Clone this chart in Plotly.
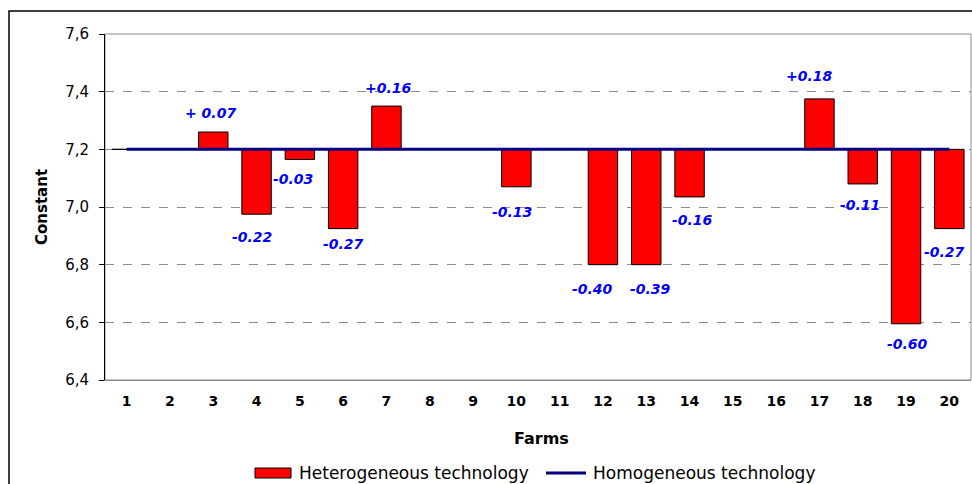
import plotly.graph_objects as go

# ---- data ----
farms = list(range(1, 21))
heterogeneous = [7.20, 7.20, 7.26, 6.975, 7.165, 6.925, 7.35, 7.20, 7.20, 7.07,
                 7.20, 6.80, 6.80, 7.035, 7.20, 7.20, 7.375, 7.08, 6.595, 6.925]
homogeneous = [7.20] * 20
y_ticks = [6.4, 6.6, 6.8, 7.0, 7.2, 7.4, 7.6]
y_ticktext = ["6,4", "6,6", "6,8", "7,0", "7,2", "7,4", "7,6"]
label_farms = [3, 4, 5, 6, 7, 10, 12, 13, 14, 17, 18, 19, 20]
label_texts = ["+ 0.07", "-0.22", "-0.03", "-0.27", "+0.16", "-0.13", "-0.40",
               "-0.39", "-0.16", "+0.18", "-0.11", "-0.60", "-0.27"]
label_shift = [(-3, 19), (-5, -23), (-7, -20), (0, -15), (2, 18), (-4, -25), (-10, -24),
               (4, -24), (3, -23), (-10, 23), (-3, -21), (1, -20), (-5, -23)]
base_level = 7.2

FONT = "DejaVu Sans"
W, H = 972, 484
ML, MR, MT, MB = 105, 1, 34, 104
PW, PH = W - ML - MR, H - MT - MB


def px(x):
    return (x - ML) / PW


def py(y):
    return (H - MB - y) / PH


fig = go.Figure()
fig.add_trace(go.Bar(
    x=farms, y=[v - base_level for v in heterogeneous], base=base_level,
    width=0.68, name="Heterogeneous technology",
    marker=dict(color="#FF0000", line=dict(color="black", width=1)),
    showlegend=False,
))
fig.add_trace(go.Scatter(
    x=farms, y=homogeneous, mode="lines", name="Homogeneous technology",
    line=dict(color="#000080", width=3), showlegend=False,
))

annotations = []
val_by_farm = dict(zip(farms, heterogeneous))
for f, t, (dx, dy) in zip(label_farms, label_texts, label_shift):
    annotations.append(dict(
        x=f, y=val_by_farm[f], xref="x", yref="y", text=f"<b><i>{t}</i></b>",
        showarrow=False, xshift=dx, yshift=dy, yanchor="middle",
        font=dict(family=FONT, size=14, color="#0000FF"),
    ))

# axis titles
annotations.append(dict(x=px(541), y=py(438), xref="paper", yref="paper",
                        xanchor="center", yanchor="middle",
                        text="<b>Farms</b>", showarrow=False,
                        font=dict(family=FONT, size=16, color="black")))
annotations.append(dict(x=px(42), y=0.5, xref="paper", yref="paper",
                        xanchor="center", yanchor="middle",
                        text="<b>Constant</b>", showarrow=False, textangle=-90,
                        font=dict(family=FONT, size=15, color="black")))
# legend texts
annotations.append(dict(x=px(297), y=py(473), xref="paper", yref="paper",
                        xanchor="left", yanchor="middle",
                        text="Heterogeneous technology", showarrow=False,
                        font=dict(family=FONT, size=17, color="black")))
annotations.append(dict(x=px(591), y=py(473), xref="paper", yref="paper",
                        xanchor="left", yanchor="middle",
                        text="Homogeneous technology", showarrow=False,
                        font=dict(family=FONT, size=17, color="black")))

shapes = [
    # plot-area border
    dict(type="rect", xref="paper", yref="paper", x0=0, x1=1, y0=0, y1=1,
         line=dict(color="#8c8c8c", width=1), layer="below"),
    # outer chart border
    dict(type="rect", xref="paper", yref="paper", x0=px(9), x1=px(990),
         y0=py(520), y1=py(11), line=dict(color="black", width=1.5)),
    # legend symbols
    dict(type="rect", xref="paper", yref="paper", x0=px(255), x1=px(291),
         y0=py(478), y1=py(468), fillcolor="#FF0000",
         line=dict(color="black", width=1)),
    dict(type="line", xref="paper", yref="paper", x0=px(546), x1=px(586),
         y0=py(473), y1=py(473), line=dict(color="#000080", width=3)),
]

fig.update_layout(
    width=W, height=H,
    margin=dict(l=ML, r=MR, t=MT, b=MB),
    paper_bgcolor="white", plot_bgcolor="white",
    font=dict(family=FONT, color="black"),
    bargap=0.3,
    xaxis=dict(
        range=[0.5, 20.5], tickvals=farms,
        ticktext=[f"<b>{f}</b>" for f in farms],
        tickfont=dict(family=FONT, size=14, color="black"),
        showgrid=False, zeroline=False, showline=True, linecolor="#8c8c8c",
        ticks="", ticklabelstandoff=8,
    ),
    xaxis2=dict(
        overlaying="x", anchor="free",
        position=(base_level - y_ticks[0]) / (y_ticks[-1] - y_ticks[0]),
        range=[0.5, 20.5], tickvals=[f + 0.5 for f in farms[:-1]],
        showticklabels=False, ticks="outside", ticklen=6, tickcolor="black",
        showline=True, linecolor="black", linewidth=1,
        showgrid=False, zeroline=False, side="bottom",
    ),
    yaxis=dict(
        range=[y_ticks[0], y_ticks[-1]], tickvals=y_ticks, ticktext=y_ticktext,
        tickfont=dict(family=FONT, size=15, color="black"),
        showgrid=True, gridcolor="#8c8c8c", griddash="dash", gridwidth=1,
        zeroline=False, showline=True, linecolor="black", linewidth=1,
        ticks="outside", ticklen=5, tickcolor="black", ticklabelstandoff=7,
    ),
    annotations=annotations,
    shapes=shapes,
    showlegend=False,
)

fig.write_html(
    "out.html",
    config={"displayModeBar": False},
    post_script="document.body.style.margin='0';document.body.style.overflow='hidden';",
)
